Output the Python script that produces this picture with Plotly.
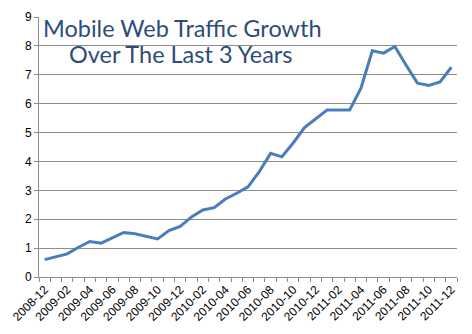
import plotly.graph_objects as go

# Monthly mobile web traffic share (%), Dec 2008 - Dec 2011
months = [
    "2008-12", "2009-01", "2009-02", "2009-03", "2009-04", "2009-05", "2009-06",
    "2009-07", "2009-08", "2009-09", "2009-10", "2009-11", "2009-12", "2010-01",
    "2010-02", "2010-03", "2010-04", "2010-05", "2010-06", "2010-07", "2010-08",
    "2010-09", "2010-10", "2010-11", "2010-12", "2011-01", "2011-02", "2011-03",
    "2011-04", "2011-05", "2011-06", "2011-07", "2011-08", "2011-09", "2011-10",
    "2011-11", "2011-12",
]
traffic = [
    0.60, 0.70, 0.80, 1.03, 1.23, 1.17, 1.35, 1.54, 1.50, 1.40, 1.32, 1.61, 1.75,
    2.08, 2.32, 2.40, 2.70, 2.90, 3.12, 3.65, 4.28, 4.16, 4.64, 5.17, 5.48, 5.78,
    5.78, 5.78, 6.54, 7.83, 7.75, 7.98, 7.33, 6.71, 6.63, 6.75, 7.26,
]
y_ticks = list(range(0, 10))
title_lines = ["Mobile Web Traffic Growth", "Over The Last 3 Years"]

idx = list(range(len(months)))

fig = go.Figure()
fig.add_trace(go.Scatter(
    x=idx, y=traffic, mode="lines",
    line=dict(color="#4A7EBB", width=3),
    hoverinfo="skip",
))

grid = "#8C8C8C"
fig.update_layout(
    width=472, height=334,
    margin=dict(l=30, r=15, t=10, b=56),
    paper_bgcolor="white", plot_bgcolor="white",
    showlegend=False,
    font=dict(family="Liberation Sans, Arial, sans-serif", size=12, color="black"),
    xaxis=dict(
        range=[-0.5, len(months) - 0.5],
        tickmode="array",
        tickvals=idx[::2],
        ticktext=months[::2],
        tickangle=-45,
        ticks="",
        showgrid=False,
        showline=True, linecolor=grid, linewidth=1,
        zeroline=False,
        minor=dict(ticks="outside", tick0=-0.5, dtick=1, ticklen=4,
                   tickcolor=grid, showgrid=False),
        tickfont=dict(size=12),
        fixedrange=True,
    ),
    yaxis=dict(
        range=[0, 9],
        tickmode="array", tickvals=y_ticks,
        ticks="outside", ticklen=4, tickcolor=grid,
        showgrid=True, gridcolor=grid, gridwidth=1,
        showline=True, linecolor=grid, linewidth=1,
        zeroline=False,
        tickfont=dict(size=12),
        fixedrange=True,
    ),
)

title_color = "#2D4D78"
fig.add_annotation(
    text=title_lines[0], xref="paper", yref="paper",
    x=0.005, y=0.959, xanchor="left", yanchor="middle",
    showarrow=False, font=dict(family="Lato, sans-serif", size=23.5, color=title_color),
)
fig.add_annotation(
    text=title_lines[1], xref="paper", yref="paper",
    x=0.068, y=0.858, xanchor="left", yanchor="middle",
    showarrow=False, font=dict(family="Lato, sans-serif", size=23.5, color=title_color),
)

fig.write_html("out.html")
